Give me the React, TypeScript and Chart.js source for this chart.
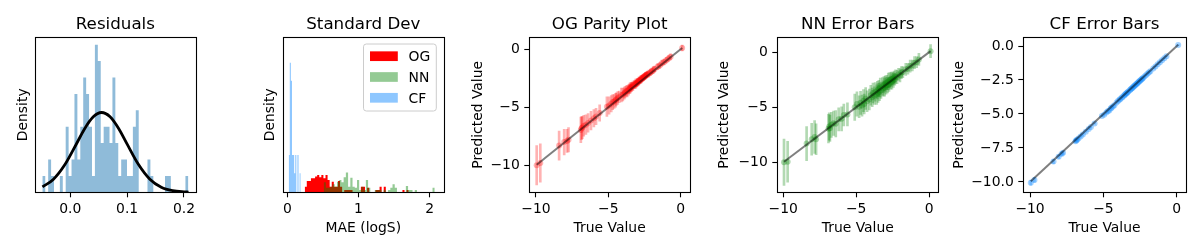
import React, { useEffect, useRef } from 'react';
import { Chart, registerables } from 'chart.js';

Chart.register(...registerables);

const FONT = "'DejaVu Sans', 'Liberation Sans', sans-serif";
Chart.defaults.font.family = FONT;
Chart.defaults.color = '#000';

// ---------------- DATA ----------------
// Panel 1: Residuals histogram (density) + fitted normal curve
const RESID_BIN_START = -0.0492;
const RESID_BIN_WIDTH = 0.005138;
const RESID_DENSITY = [
  1.85, 0, 3.71, 1.85, 0, 0, 1.85, 0, 7.41, 1.85,
  3.71, 11.12, 3.71, 7.41, 12.98, 11.12, 7.41, 1.85, 16.68, 14.83,
  5.56, 7.41, 7.41, 5.56, 12.98, 5.56, 1.85, 3.71, 3.71, 1.85,
  1.85, 7.41, 9.27, 0, 0, 0, 3.71, 1.85, 0, 0,
  0, 0, 1.85, 1.85, 0, 0, 0, 0, 0, 1.85,
];
const RESID_FIT_X = [-0.049, -0.03, -0.01, 0.01, 0.025, 0.04, 0.055, 0.07, 0.085, 0.1, 0.12, 0.14, 0.16, 0.18, 0.2, 0.208];
const RESID_FIT_Y = [0.62, 1.45, 3.08, 5.38, 7.16, 8.5, 9.02, 8.54, 7.22, 5.45, 3.14, 1.48, 0.57, 0.18, 0.05, 0.03];
const RESID_X_TICKS = [0, 0.1, 0.2];

// Panel 2: Standard deviation histograms (density)
const SD_LABELS = ['OG', 'NN', 'CF'];
const SD_OG_START = 0.244;
const SD_OG_WIDTH = 0.0292;
const SD_OG = [
  0.32, 0.64, 0.64, 0.79, 0.79, 0.89, 0.98, 0.85, 0.98, 0.79,
  0.98, 0.7, 0.32, 0.6, 0.32, 0.32, 0.64, 0.32, 0, 0.13,
  0.13, 0.13, 0.13, 0, 0, 0, 0, 0.32, 0.32, 0,
  0.26, 0, 0, 0, 0.13, 0.13, 0.32, 0, 0.32, 0,
  0, 0, 0, 0, 0, 0, 0, 0.13, 0, 0.13,
];
const SD_NN_START = 0.51;
const SD_NN_WIDTH = 0.0312;
const SD_NN = [
  0.57, 0.26, 0.26, 0.32, 0.45, 0.32, 0.6, 0.7, 0.57, 0.85,
  1.12, 0.32, 0.83, 0.32, 0.26, 0.7, 0.13, 0.32, 0.13, 0.7,
  0.26, 0, 0, 0.13, 0.13, 0.13, 0, 0.13, 0, 0.13,
  0.26, 0.45, 0.26, 0, 0, 0, 0, 0.36, 0.13, 0.13,
  0, 0.13, 0, 0, 0, 0, 0, 0, 0, 0.26,
];
const SD_CF_START = 0.0192;
const SD_CF_WIDTH = 0.01535;
const SD_CF = [2.11, 7.34, 6.32, 2.11, 2.11, 1.08, 2.11, 0, 2.11, 0, 1.08];
const SD_X_TICKS = [0, 1, 2];

// Panels 3-5: parity data
const TRUE_VALUES = [
  -9.95, -9.7,
  -8.4, -8.05, -7.85, -7.75,
  -6.9, -6.85, -6.8, -6.7, -6.55, -6.4, -6.2, -6.0, -5.85, -5.6,
  -5.1, -4.95, -4.8, -4.7, -4.6, -4.5, -4.45, -4.35, -4.25,
  -4.1, -4.0, -3.9, -3.85, -3.75, -3.7, -3.6, -3.55, -3.5, -3.45,
  -3.4, -3.35, -3.3, -3.2, -3.15, -3.1, -3.05, -3.0, -2.95, -2.9,
  -2.85, -2.8, -2.75, -2.7, -2.65, -2.6, -2.55, -2.5, -2.45, -2.4,
  -2.35, -2.3,
  -2.2, -2.1, -2.0, -1.9, -1.8, -1.6, -1.45, -1.3, -1.15, -1.0, -0.85, -0.7, 0.1,
];
const OG_PRED = [
  -10.0, -9.8,
  -8.3, -8.0, -7.9, -7.8,
  -6.95, -6.8, -6.75, -6.6, -6.5, -6.35, -6.15, -5.95, -5.8, -5.5,
  -4.95, -4.85, -4.7, -4.55, -4.5, -4.4, -4.3, -4.2, -4.1,
  -3.95, -3.9, -3.8, -3.7, -3.6, -3.6, -3.5, -3.4, -3.35, -3.3,
  -3.25, -3.2, -3.15, -3.05, -3.0, -2.95, -2.95, -2.85, -2.8, -2.75,
  -2.7, -2.65, -2.6, -2.55, -2.5, -2.45, -2.4, -2.35, -2.3, -2.25,
  -2.2, -2.15,
  -2.1, -2.0, -1.9, -1.8, -1.7, -1.5, -1.4, -1.2, -1.1, -0.95, -0.8, -0.65, 0.1,
];
const OG_STD = [
  1.7, 1.65,
  1.25, 1.1, 1.0, 1.05,
  1.1, 1.0, 0.95, 0.9, 0.85, 0.8, 0.8, 0.75, 0.7, 0.7,
  0.85, 0.75, 0.7, 0.65, 0.6, 0.6, 0.55, 0.55, 0.5,
  0.6, 0.55, 0.5, 0.5, 0.45, 0.5, 0.45, 0.4, 0.45, 0.4,
  0.4, 0.35, 0.4, 0.35, 0.35, 0.4, 0.3, 0.35, 0.3, 0.35,
  0.3, 0.3, 0.35, 0.3, 0.3, 0.28, 0.3, 0.28, 0.3, 0.27,
  0.28, 0.26,
  0.3, 0.28, 0.27, 0.3, 0.26, 0.27, 0.25, 0.26, 0.25, 0.25, 0.25, 0.26, 0.25,
];
const NN_PRED = [
  -10.0, -9.95,
  -8.3, -7.9, -7.7, -7.9,
  -6.95, -6.75, -6.9, -6.6, -6.45, -6.5, -6.1, -6.05, -5.7, -5.65,
  -5.0, -4.7, -4.95, -4.6, -4.85, -4.4, -4.7, -4.2, -4.45,
  -4.3, -3.9, -4.1, -3.7, -3.95, -3.6, -3.85, -3.45, -3.7, -3.3,
  -3.6, -3.2, -3.45, -3.1, -3.3, -2.95, -3.2, -2.85, -3.05, -2.75,
  -3.0, -2.65, -2.9, -2.55, -2.75, -2.45, -2.65, -2.4, -2.55, -2.3,
  -2.45, -2.2,
  -2.25, -2.0, -2.1, -1.85, -1.8, -1.55, -1.5, -1.25, -1.2, -0.95, -0.9, -0.65, 0.1,
];
const NN_STD = [
  2.1, 1.85,
  1.55, 1.45, 1.5, 1.4,
  1.3, 1.25, 1.2, 1.15, 1.1, 1.2, 1.05, 1.1, 1.0, 1.05,
  1.2, 1.1, 1.0, 1.05, 0.95, 1.0, 0.9, 1.0, 0.95,
  0.95, 0.9, 0.85, 0.9, 0.8, 0.85, 0.9, 0.8, 0.85, 0.75,
  0.8, 0.85, 0.75, 0.8, 0.7, 0.75, 0.8, 0.7, 0.75, 0.65,
  0.7, 0.75, 0.65, 0.7, 0.6, 0.65, 0.7, 0.6, 0.65, 0.6,
  0.55, 0.6,
  0.6, 0.55, 0.6, 0.55, 0.5, 0.55, 0.5, 0.55, 0.5, 0.55, 0.5, 0.55, 0.6,
];
const CF_PRED = [
  -10.05, -9.85,
  -8.5, -8.15, -7.95, -7.85,
  -7.0, -6.95, -6.9, -6.8, -6.65, -6.5, -6.3, -6.1, -5.95, -5.7,
  -5.15, -5.05, -4.9, -4.8, -4.75, -4.6, -4.55, -4.45, -4.35,
  -4.15, -4.05, -3.95, -3.9, -3.8, -3.75, -3.65, -3.6, -3.55, -3.5,
  -3.45, -3.4, -3.35, -3.25, -3.2, -3.15, -3.1, -3.05, -3.0, -2.95,
  -2.9, -2.85, -2.8, -2.75, -2.7, -2.65, -2.6, -2.55, -2.5, -2.45,
  -2.4, -2.35,
  -2.25, -2.15, -2.05, -1.95, -1.85, -1.65, -1.5, -1.35, -1.2, -1.05, -0.9, -0.75, 0.08,
];
const CF_STD = [
  0.19, 0.17,
  0.15, 0.12, 0.11, 0.12,
  0.1, 0.09, 0.08, 0.08, 0.07, 0.07, 0.06, 0.06, 0.05, 0.05,
  0.05, 0.05, 0.05, 0.05, 0.05, 0.04, 0.05, 0.04, 0.04,
  0.04, 0.04, 0.04, 0.03, 0.04, 0.03, 0.04, 0.03, 0.04, 0.03,
  0.03, 0.04, 0.03, 0.03, 0.04, 0.03, 0.03, 0.03, 0.04, 0.03,
  0.03, 0.03, 0.03, 0.04, 0.03, 0.03, 0.03, 0.03, 0.03, 0.03,
  0.03, 0.03,
  0.03, 0.03, 0.03, 0.03, 0.03, 0.03, 0.03, 0.03, 0.03, 0.03, 0.03, 0.03, 0.03,
];
const PARITY_X_TICKS = [-10, -5, 0];
const PARITY_Y_TICKS = [-10, -5, 0];
const CF_Y_TICKS = [-10, -7.5, -5, -2.5, 0];

// ---------------- LAYOUT / STYLE ----------------
const FIG_H = 250;
const PLOT_TOP = 37.3;
const PLOT_BOTTOM = 192.3;
const XTITLE_BOTTOM = 235;
const TICK_SIZE = 13.9;
const TITLE_SIZE = 16.7;

type Geom = { canvasLeft: number; canvasWidth: number; plotLeft: number; plotRight: number };
const GEOMS: Geom[] = [
  { canvasLeft: 16, canvasWidth: 186, plotLeft: 35, plotRight: 195.7 },
  { canvasLeft: 263, canvasWidth: 188, plotLeft: 282.7, plotRight: 444 },
  { canvasLeft: 471, canvasWidth: 228, plotLeft: 529.3, plotRight: 690 },
  { canvasLeft: 717, canvasWidth: 230, plotLeft: 777.3, plotRight: 938.3 },
  { canvasLeft: 952, canvasWidth: 246, plotLeft: 1023.3, plotRight: 1185.7 },
];

const fmt = (v: number, dec: number) => (v < 0 ? '\u2212' : '') + Math.abs(v).toFixed(dec);

function axis(o: {
  horizontal: boolean; min: number; max: number; ticks: number[]; dec: number;
  title?: string; showTicks: boolean; size: number;
}) {
  return {
    type: 'linear',
    position: o.horizontal ? 'bottom' : 'left',
    min: o.min,
    max: o.max,
    offset: false,
    afterBuildTicks: (s: any) => {
      s.ticks = o.ticks.map((v) => ({ value: v }));
    },
    afterFit: (s: any) => {
      if (o.horizontal) {
        s.height = o.size;
        s.paddingLeft = 0;
        s.paddingRight = 0;
      } else {
        s.width = o.size;
        s.paddingTop = 0;
        s.paddingBottom = 0;
      }
    },
    ticks: {
      display: o.showTicks,
      autoSkip: false,
      maxRotation: 0,
      minRotation: 0,
      padding: o.horizontal ? 3.5 : 4.5,
      color: '#000',
      font: { size: TICK_SIZE, lineHeight: 1.2 },
      callback: (v: any) => fmt(Number(v), o.dec),
    },
    grid: {
      display: o.showTicks,
      drawOnChartArea: false,
      drawTicks: true,
      tickLength: 5,
      tickWidth: 1.1,
      tickColor: '#000',
      offset: false,
    },
    border: { display: false },
    title: {
      display: !!o.title,
      text: o.title || '',
      padding: 0,
      color: '#000',
      font: { size: TICK_SIZE, lineHeight: 1 },
    },
  };
}

type LegendItem = { label: string; color: string };

function decor(title: string, legend?: LegendItem[]) {
  return {
    id: 'decor',
    afterDraw(chart: any) {
      const { ctx, chartArea: a } = chart;
      ctx.save();
      const l = Math.round(a.left) + 0.5;
      const t = Math.round(a.top) + 0.5;
      const r = Math.round(a.right) + 0.5;
      const b = Math.round(a.bottom) + 0.5;
      ctx.strokeStyle = '#000';
      ctx.lineWidth = 1.1;
      ctx.strokeRect(l, t, r - l, b - t);
      ctx.fillStyle = '#000';
      ctx.font = `${TITLE_SIZE}px ${FONT}`;
      ctx.textAlign = 'center';
      ctx.textBaseline = 'alphabetic';
      ctx.fillText(title, (a.left + a.right) / 2, a.top - 8.3);
      if (legend) {
        const bw = 72.8;
        const bh = 67;
        const bx = a.right - 7.7 - bw;
        const by = a.top + 6.7;
        const rad = 2.8;
        ctx.beginPath();
        ctx.moveTo(bx + rad, by);
        ctx.lineTo(bx + bw - rad, by);
        ctx.quadraticCurveTo(bx + bw, by, bx + bw, by + rad);
        ctx.lineTo(bx + bw, by + bh - rad);
        ctx.quadraticCurveTo(bx + bw, by + bh, bx + bw - rad, by + bh);
        ctx.lineTo(bx + rad, by + bh);
        ctx.quadraticCurveTo(bx, by + bh, bx, by + bh - rad);
        ctx.lineTo(bx, by + rad);
        ctx.quadraticCurveTo(bx, by, bx + rad, by);
        ctx.closePath();
        ctx.fillStyle = 'rgba(255,255,255,0.8)';
        ctx.fill();
        ctx.strokeStyle = '#cccccc';
        ctx.lineWidth = 1;
        ctx.stroke();
        ctx.font = `${TICK_SIZE}px ${FONT}`;
        ctx.textAlign = 'left';
        legend.forEach((it, i) => {
          const cy = by + 12.2 + i * 20.8;
          ctx.fillStyle = '#fff';
          ctx.fillRect(bx + 6.5, cy - 4.85, 27.8, 9.7);
          ctx.fillStyle = it.color;
          ctx.fillRect(bx + 6.5, cy - 4.85, 27.8, 9.7);
          ctx.fillStyle = '#000';
          ctx.fillText(it.label, bx + 45, cy + 5);
        });
      }
      ctx.restore();
    },
  };
}

function layoutFor(g: Geom) {
  return {
    autoPadding: false,
    padding: {
      left: 0,
      top: PLOT_TOP,
      right: g.canvasLeft + g.canvasWidth - g.plotRight,
      bottom: FIG_H - XTITLE_BOTTOM,
    },
  };
}

function baseOptions(g: Geom, xAxis: any, yAxis: any) {
  return {
    responsive: false,
    animation: false,
    devicePixelRatio: 1,
    events: [],
    layout: layoutFor(g),
    plugins: { legend: { display: false }, tooltip: { enabled: false } },
    scales: { x: xAxis, y: yAxis },
  };
}

function stepPoints(start: number, width: number, heights: number[]) {
  const pts: { x: number; y: number }[] = [];
  heights.forEach((h, i) => {
    pts.push({ x: start + i * width, y: h });
    pts.push({ x: start + (i + 1) * width, y: h });
  });
  return pts;
}

function histDataset(label: string, start: number, width: number, heights: number[], color: string, order: number) {
  return {
    type: 'line',
    label,
    data: stepPoints(start, width, heights),
    fill: 'origin',
    backgroundColor: color,
    borderColor: 'rgba(0,0,0,0)',
    borderWidth: 0,
    pointRadius: 0,
    tension: 0,
    order,
  };
}

const X_AXIS_H = XTITLE_BOTTOM - PLOT_BOTTOM;

function residualsConfig() {
  const g = GEOMS[0];
  return {
    type: 'scatter',
    data: {
      datasets: [
        {
          type: 'line',
          label: 'fit',
          data: RESID_FIT_X.map((x, i) => ({ x, y: RESID_FIT_Y[i] })),
          borderColor: '#000',
          borderWidth: 2.8,
          pointRadius: 0,
          cubicInterpolationMode: 'monotone',
          fill: false,
          order: 0,
        },
        histDataset('residuals', RESID_BIN_START, RESID_BIN_WIDTH, RESID_DENSITY, 'rgba(31,119,180,0.5)', 1),
      ],
    },
    options: baseOptions(
      g,
      axis({ horizontal: true, min: -0.0621, max: 0.2206, ticks: RESID_X_TICKS, dec: 1, showTicks: true, size: X_AXIS_H }),
      axis({ horizontal: false, min: 0, max: 17.52, ticks: [0], dec: 0, title: 'Density', showTicks: false, size: g.plotLeft - g.canvasLeft }),
    ),
    plugins: [decor('Residuals')],
  };
}

const SD_COLORS = ['rgb(255,0,0)', 'rgba(0,128,0,0.42)', 'rgba(30,144,255,0.5)'];

function sdConfig() {
  const g = GEOMS[1];
  return {
    type: 'scatter',
    data: {
      datasets: [
        histDataset(SD_LABELS[2], SD_CF_START, SD_CF_WIDTH, SD_CF, SD_COLORS[2], 1),
        histDataset(SD_LABELS[1], SD_NN_START, SD_NN_WIDTH, SD_NN, SD_COLORS[1], 2),
        histDataset(SD_LABELS[0], SD_OG_START, SD_OG_WIDTH, SD_OG, SD_COLORS[0], 3),
      ],
    },
    options: baseOptions(
      g,
      axis({ horizontal: true, min: -0.065, max: 2.2, ticks: SD_X_TICKS, dec: 0, title: 'MAE (logS)', showTicks: true, size: X_AXIS_H }),
      axis({ horizontal: false, min: 0, max: 8.78, ticks: [0], dec: 0, title: 'Density', showTicks: false, size: g.plotLeft - g.canvasLeft }),
    ),
    plugins: [decor('Standard Dev', SD_LABELS.map((label, i) => ({ label, color: SD_COLORS[i] })))],
  };
}

function parityConfig(
  g: Geom, title: string, pred: number[], std: number[], rgb: string,
  ptAlpha: number, barAlpha: number,
  xr: [number, number], yr: [number, number], yTicks: number[], yDec: number,
) {
  const tMin = Math.min(...TRUE_VALUES);
  const tMax = Math.max(...TRUE_VALUES);
  return {
    type: 'scatter',
    data: {
      datasets: [
        {
          type: 'line',
          label: 'ideal',
          data: [{ x: tMin, y: tMin }, { x: tMax, y: tMax }],
          borderColor: 'rgba(0,0,0,0.5)',
          borderWidth: 2,
          pointRadius: 0,
          fill: false,
          order: 0,
        },
        {
          type: 'scatter',
          label: 'pred',
          data: TRUE_VALUES.map((t, i) => ({ x: t, y: pred[i] })),
          backgroundColor: `rgba(${rgb},${ptAlpha})`,
          borderWidth: 0,
          pointRadius: 3,
          order: 1,
        },
        {
          type: 'bar',
          label: 'std',
          data: TRUE_VALUES.map((t, i) => ({ x: t, y: [pred[i] - std[i], pred[i] + std[i]] })),
          backgroundColor: `rgba(${rgb},${barAlpha})`,
          borderWidth: 0,
          barThickness: 2,
          grouped: true,
          order: 2,
        },
      ],
    },
    options: baseOptions(
      g,
      axis({ horizontal: true, min: xr[0], max: xr[1], ticks: PARITY_X_TICKS, dec: 0, title: 'True Value', showTicks: true, size: X_AXIS_H }),
      axis({ horizontal: false, min: yr[0], max: yr[1], ticks: yTicks, dec: yDec, title: 'Predicted Value', showTicks: true, size: g.plotLeft - g.canvasLeft }),
    ),
    plugins: [decor(title)],
  };
}

const CONFIGS = [
  residualsConfig,
  sdConfig,
  () => parityConfig(GEOMS[2], 'OG Parity Plot', OG_PRED, OG_STD, '255,0,0', 0.3, 0.3, [-10.46, 0.64], [-12.33, 1.03], PARITY_Y_TICKS, 0),
  () => parityConfig(GEOMS[3], 'NN Error Bars', NN_PRED, NN_STD, '0,128,0', 0.3, 0.3, [-10.41, 0.63], [-12.73, 1.36], PARITY_Y_TICKS, 0),
  () => parityConfig(GEOMS[4], 'CF Error Bars', CF_PRED, CF_STD, '30,144,255', 0.4, 0.4, [-10.46, 0.61], [-10.76, 0.64], CF_Y_TICKS, 1),
];

function Panel({ geom, make }: { geom: Geom; make: () => any }) {
  const ref = useRef<HTMLCanvasElement>(null);
  useEffect(() => {
    const chart = new Chart(ref.current as HTMLCanvasElement, make());
    return () => chart.destroy();
  }, []);
  return (
    <canvas
      ref={ref}
      width={geom.canvasWidth}
      height={FIG_H}
      style={{ position: 'absolute', left: geom.canvasLeft, top: 0, width: geom.canvasWidth, height: FIG_H }}
    />
  );
}

export default function App() {
  return (
    <div style={{ position: 'absolute', left: 0, top: 0, width: 1200, height: FIG_H, background: '#fff', overflow: 'hidden' }}>
      {GEOMS.map((g, i) => (
        <Panel key={i} geom={g} make={CONFIGS[i]} />
      ))}
    </div>
  );
}
